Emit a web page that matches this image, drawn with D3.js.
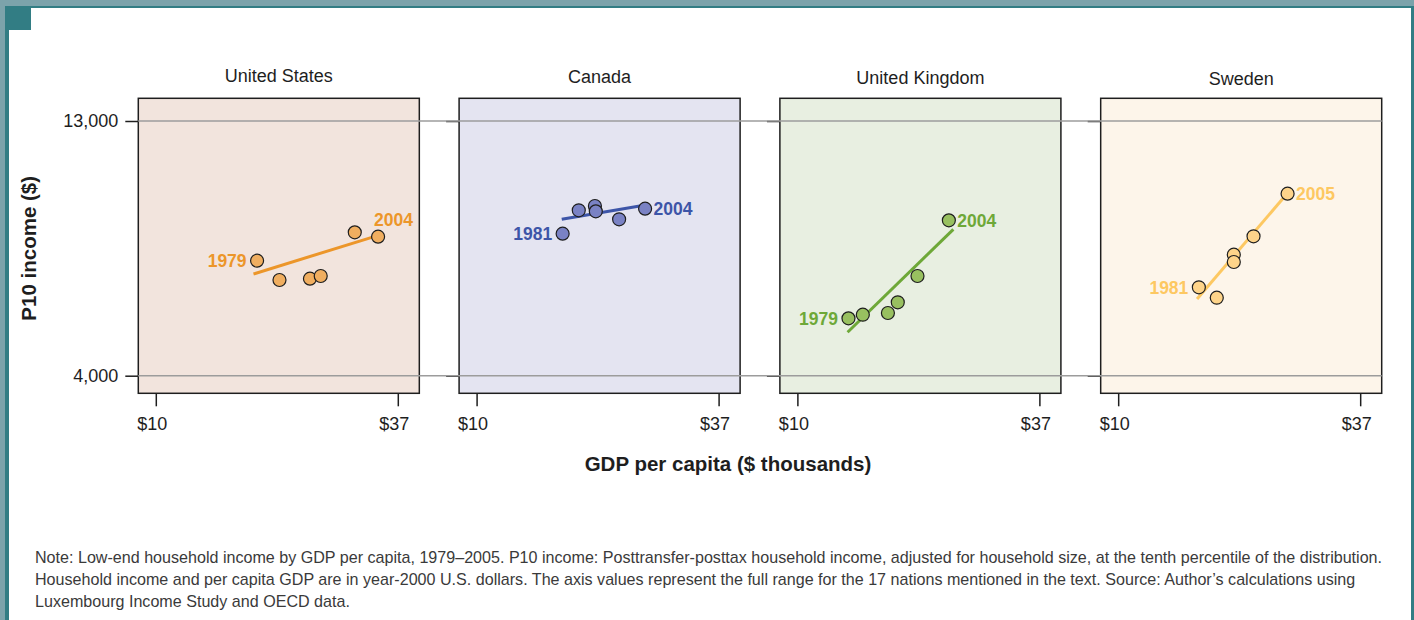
<!DOCTYPE html>
<html>
<head>
<meta charset="utf-8">
<script src="https://cdn.jsdelivr.net/npm/d3@7"></script>
<style>
  body { margin: 0; background: #fff; }
  svg { display: block; font-family: "Liberation Sans", Arial, Helvetica, sans-serif; }
</style>
</head>
<body>
<svg id="chart"></svg>
<script>
// data (GDP in $ thousands, P10 income in $)
var countries = ["United States", "Canada", "United Kingdom", "Sweden"];
var gdp = [
  [21.3, 23.8, 27.2, 28.4, 32.2, 34.8],
  [19.6, 21.4, 23.2, 23.3, 25.9, 28.8],
  [15.7, 17.3, 20.1, 21.2, 23.4, 26.9],
  [19.0, 21.0, 22.9, 22.9, 25.1, 28.9]
];
var p10 = [
  [8064, 7382, 7428, 7523, 9067, 8912],
  [9018, 9845, 9996, 9809, 9527, 9901],
  [6028, 6155, 6216, 6594, 7523, 9491],
  [7124, 6756, 8276, 8018, 8926, 10431]
];
var firstYears = ["1979", "1981", "1979", "1981"];
var lastYears = ["2004", "2004", "2004", "2005"];
// fitted line end points
var fitGdp = [[20.9, 34.1], [19.5, 28.7], [15.6, 27.4], [18.8, 28.5]];
var fitP10 = [[7594, 8890], [9527, 10021], [5534, 9173], [6710, 10307]];
var xTicks = [10, 37];
var yTicks = [4000, 13000];
var xTitle = "GDP per capita ($ thousands)";
var yTitle = "P10 income ($)";
var noteLines = [
  "Note: Low-end household income by GDP per capita, 1979\u20132005. P10 income: Posttransfer-posttax household income, adjusted for household size, at the tenth percentile of the distribution.",
  "Household income and per capita GDP are in year-2000 U.S. dollars. The axis values represent the full range for the 17 nations mentioned in the text. Source: Author\u2019s calculations using",
  "Luxembourg Income Study and OECD data."
];

var panelFill = ["#f2e4dd", "#e4e4f1", "#e8efe1", "#fdf5ea"],
  dotFill = ["#f0ae60", "#7a82c4", "#98c060", "#fed48a"],
  lineColor = ["#ec962a", "#3d55a8", "#6ea838", "#fdc862"],
  endLabelAbove = [true, false, false, false];

var width = 1414, height = 620,
  panelTop = 98.3, panelBottom = 393.3,
  tickLen = 13,
  ink = "#1e1e1e";

var svg = d3.select("#chart").attr("width", width).attr("height", height);

// frame
var teal = "#327d84", tealLight = "#7ca3ab";
svg.append("rect").attr("x", 0).attr("y", 0).attr("width", width).attr("height", 8).attr("fill", tealLight);
svg.append("rect").attr("x", 0).attr("y", 0).attr("width", 9).attr("height", height).attr("fill", tealLight);
svg.append("rect").attr("x", 5).attr("y", 6).attr("width", width - 5).attr("height", 2).attr("fill", teal);
svg.append("rect").attr("x", 5).attr("y", 6).attr("width", 4).attr("height", height - 6).attr("fill", teal);
svg.append("rect").attr("x", 9).attr("y", 8).attr("width", 22).attr("height", 22).attr("fill", teal);
svg.append("rect").attr("x", width - 3).attr("y", 6).attr("width", 3).attr("height", height - 6).attr("fill", teal);

var panel = d3.scaleBand()
    .domain(countries)
    .range([138.3, 1381.7])
    .paddingInner(0.124),
  pw = panel.bandwidth(),
  x = d3.scaleLinear().domain([10, 37]).range([17.5, 259.5]),
  y = d3.scaleLinear().domain([4000, 13000]).range([375.7, 121]);

var fitLine = d3.line()
  .x(function(d) { return x(d[0]); })
  .y(function(d) { return y(d[1]); });

var panels = svg.selectAll("g.panel")
  .data(countries)
  .enter()
  .append("g")
    .attr("class", "panel")
    .attr("transform", function(d) { return "translate(" + panel(d) + ",0)"; });

panels.append("rect")
  .attr("x", 0)
  .attr("y", panelTop)
  .attr("width", pw)
  .attr("height", panelBottom - panelTop)
  .attr("fill", function(d, i) { return panelFill[i]; });

// horizontal reference lines across all panels
svg.selectAll("line.grid")
  .data(yTicks)
  .enter()
  .append("line")
    .attr("class", "grid")
    .attr("x1", panel.range()[0])
    .attr("x2", panel.range()[1])
    .attr("y1", y)
    .attr("y2", y)
    .attr("stroke", "#9c9c9c")
    .attr("stroke-width", 1.5);

panels.each(function(country, i) {
  var g = d3.select(this),
    pts = gdp[i].map(function(v, k) { return [v, p10[i][k]]; }),
    first = pts[0],
    last = pts[pts.length - 1],
    yAxis = d3.axisLeft(y)
      .tickValues(yTicks)
      .tickSize(tickLen)
      .tickPadding(7)
      .tickFormat(i === 0 ? d3.format(",") : ""),
    xAxis = d3.axisBottom(x)
      .tickValues(xTicks)
      .tickSize(tickLen)
      .tickPadding(11)
      .tickFormat(function(d) { return "$" + d; });

  g.append("g").call(yAxis)
    .call(function(a) {
      a.select(".domain").remove();
      a.selectAll("line").attr("stroke", ink).attr("stroke-width", 1.5);
      a.selectAll("text").attr("fill", ink).attr("font-size", 18).attr("font-family", null);
    });

  g.append("g")
    .attr("transform", "translate(0," + panelBottom + ")")
    .call(xAxis)
    .call(function(a) {
      a.select(".domain").remove();
      a.selectAll("line").attr("stroke", ink).attr("stroke-width", 1.5);
      a.selectAll("text").attr("fill", ink).attr("font-size", 18).attr("font-family", null).attr("dx", -4);
    });

  g.append("text")
    .attr("x", pw / 2)
    .attr("y", 82 + i)
    .attr("text-anchor", "middle")
    .attr("font-size", 18)
    .attr("fill", ink)
    .text(country);

  g.append("path")
    .datum([[fitGdp[i][0], fitP10[i][0]], [fitGdp[i][1], fitP10[i][1]]])
    .attr("d", fitLine)
    .attr("fill", "none")
    .attr("stroke", lineColor[i])
    .attr("stroke-width", 3);

  g.selectAll("circle")
    .data(pts)
    .enter()
    .append("circle")
      .attr("cx", function(d) { return x(d[0]); })
      .attr("cy", function(d) { return y(d[1]); })
      .attr("r", 6.5)
      .attr("fill", dotFill[i])
      .attr("stroke", ink)
      .attr("stroke-width", 1.2);

  g.append("text")
    .attr("x", x(first[0]) - 10.5)
    .attr("y", y(first[1]) + 6.5)
    .attr("text-anchor", "end")
    .attr("font-size", 17.5)
    .attr("font-weight", "bold")
    .attr("fill", lineColor[i])
    .text(firstYears[i]);

  g.append("text")
    .attr("x", endLabelAbove[i] ? x(last[0]) - 4 : x(last[0]) + 8.5)
    .attr("y", endLabelAbove[i] ? y(last[1]) - 10.5 : y(last[1]) + 6.5)
    .attr("font-size", 17.5)
    .attr("font-weight", "bold")
    .attr("fill", lineColor[i])
    .text(lastYears[i]);

  g.append("rect")
    .attr("x", 0)
    .attr("y", panelTop)
    .attr("width", pw)
    .attr("height", panelBottom - panelTop)
    .attr("fill", "none")
    .attr("stroke", ink)
    .attr("stroke-width", 1.5);
});

// axis titles
svg.append("text")
  .attr("x", 728)
  .attr("y", 471)
  .attr("text-anchor", "middle")
  .attr("font-size", 20.5)
  .attr("font-weight", "bold")
  .attr("fill", ink)
  .text(xTitle);

svg.append("text")
  .attr("transform", "translate(35.5,248.3) rotate(-90)")
  .attr("text-anchor", "middle")
  .attr("font-size", 20.5)
  .attr("font-weight", "bold")
  .attr("fill", ink)
  .text(yTitle);

// note
svg.append("g")
  .selectAll("text")
  .data(noteLines)
  .enter()
  .append("text")
    .attr("x", 35)
    .attr("y", function(d, i) { return 563 + i * 22; })
    .attr("font-size", 16.1)
    .attr("fill", "#3a3a3a")
    .text(function(d) { return d; });
</script>
</body>
</html>
